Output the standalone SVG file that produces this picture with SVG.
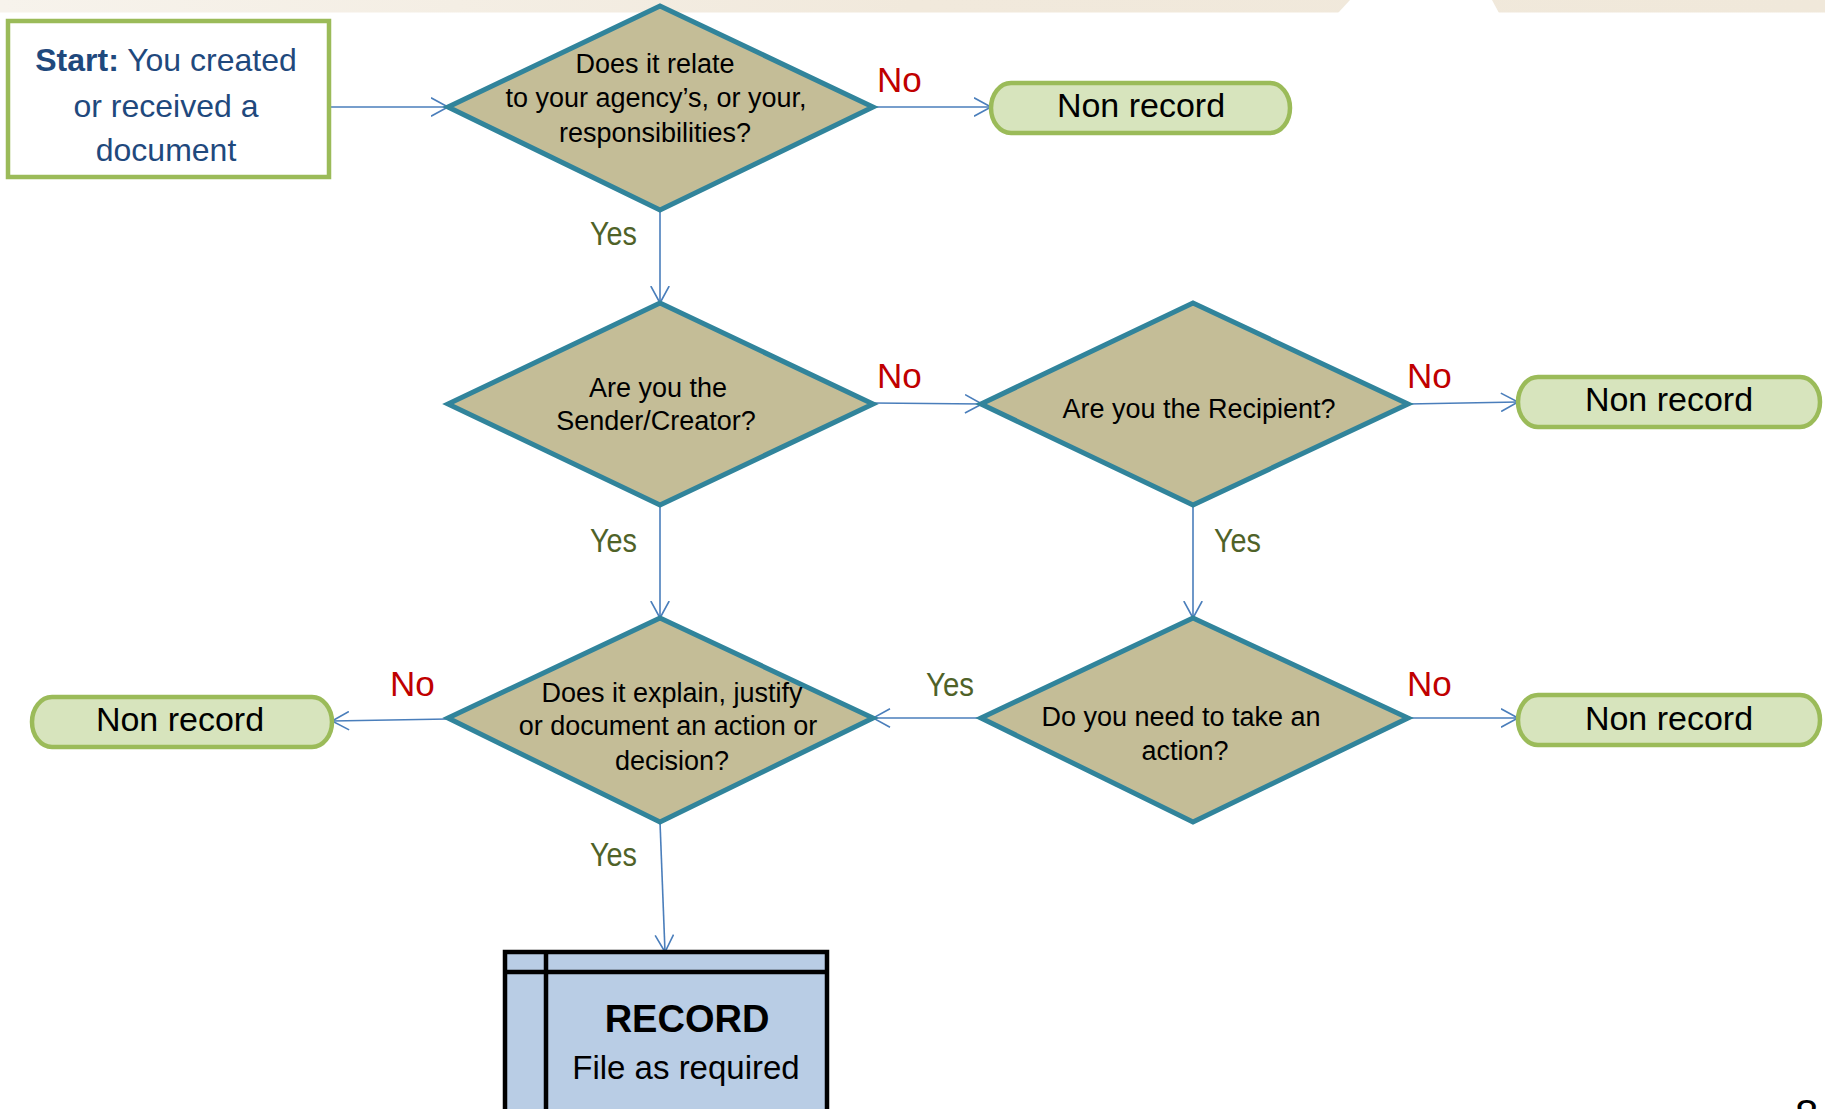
<svg xmlns="http://www.w3.org/2000/svg" width="1825" height="1109" viewBox="0 0 1825 1109">
<defs>
<linearGradient id="band" x1="0" y1="0" x2="1" y2="0">
<stop offset="0" stop-color="#f7f3ec"/>
<stop offset="0.5" stop-color="#f1e9dc"/>
<stop offset="1" stop-color="#f0e8da"/>
</linearGradient>
<marker id="arr" viewBox="0 0 19 20" refX="17.5" refY="10" markerWidth="19" markerHeight="20" markerUnits="userSpaceOnUse" orient="auto">
<path d="M0.5,0.8 L17.5,10 L0.5,19.2" fill="none" stroke="#4a7ebb" stroke-width="1.6"/>
</marker>
<style>
.dia{fill:#c4bd97;stroke:#31849b;stroke-width:5;stroke-linejoin:miter}
.nr{fill:#d7e4bd;stroke:#9bbb59;stroke-width:4.5}
.dt{font-family:"Liberation Sans",Arial,sans-serif;font-size:27px;fill:#000;text-anchor:middle}
.nt{font-family:"Liberation Sans",Arial,sans-serif;font-size:34px;fill:#000;text-anchor:middle}
.no{font-family:"Liberation Sans",Arial,sans-serif;font-size:35px;fill:#c00000}
.yes{font-family:"Liberation Sans",Arial,sans-serif;font-size:34px;fill:#4f6228}
.st{font-family:"Liberation Sans",Arial,sans-serif;font-size:32px;fill:#1f497d;text-anchor:middle}
.cn{fill:none;stroke:#4a7ebb;stroke-width:1.6;marker-end:url(#arr)}
</style>
</defs>
<rect x="0" y="0" width="1825" height="1109" fill="#ffffff"/>
<rect x="0" y="0" width="1825" height="12.5" fill="url(#band)"/>
<polygon points="1350,0 1492,0 1499,13 1338,13" fill="#ffffff"/>

<g id="connectors">
<line class="cn" x1="329" y1="107" x2="448" y2="107"/>
<line class="cn" x1="873" y1="107" x2="991" y2="107"/>
<line class="cn" x1="660" y1="210" x2="660" y2="303"/>
<line class="cn" x1="873" y1="403" x2="982" y2="404"/>
<line class="cn" x1="1408" y1="404" x2="1518" y2="402"/>
<line class="cn" x1="660" y1="505" x2="660" y2="618"/>
<line class="cn" x1="1193" y1="505" x2="1193" y2="618"/>
<line class="cn" x1="981" y1="718" x2="873" y2="718"/>
<line class="cn" x1="1408" y1="718" x2="1518" y2="718"/>
<line class="cn" x1="448" y1="719" x2="332" y2="721"/>
<line class="cn" x1="660" y1="822" x2="665" y2="952"/>
<text class="no" x="877" y="92">No</text>
<text class="no" x="877" y="388">No</text>
<text class="no" x="1407" y="388">No</text>
<text class="no" x="390" y="696">No</text>
<text class="no" x="1407" y="696">No</text>
<text class="yes" x="590" y="245" textLength="47" lengthAdjust="spacingAndGlyphs">Yes</text>
<text class="yes" x="590" y="552" textLength="47" lengthAdjust="spacingAndGlyphs">Yes</text>
<text class="yes" x="1214" y="552" textLength="47" lengthAdjust="spacingAndGlyphs">Yes</text>
<text class="yes" x="926" y="696" textLength="48" lengthAdjust="spacingAndGlyphs">Yes</text>
<text class="yes" x="590" y="866" textLength="47" lengthAdjust="spacingAndGlyphs">Yes</text>
</g>

<g id="start">
<rect x="8" y="21" width="321" height="156" fill="#ffffff" stroke="#9bbb59" stroke-width="4.5"/>
<text class="st" x="166" y="71"><tspan font-weight="bold">Start:</tspan> You created</text>
<text class="st" x="166" y="117">or received a</text>
<text class="st" x="166" y="161">document</text>
</g>

<g id="q1">
<polygon class="dia" points="448,107 660,6 873,107 660,210"/>
<text class="dt" x="655" y="73">Does it relate</text>
<text class="dt" x="656" y="107">to your agency’s, or your,</text>
<text class="dt" x="655" y="142">responsibilities?</text>
</g>

<g id="nr1">
<path class="nr" d="M1011,83 H1270 A20,25 0 0 1 1270,133 H1011 A20,25 0 0 1 1011,83 Z"/>
<text class="nt" x="1141" y="117">Non record</text>
</g>

<g id="q2">
<polygon class="dia" points="448,404 660,303 873,404 660,505"/>
<text class="dt" x="658" y="397">Are you the</text>
<text class="dt" x="656" y="430">Sender/Creator?</text>
</g>

<g id="q3">
<polygon class="dia" points="981,404 1193,303 1408,404 1193,505"/>
<text class="dt" x="1199" y="418">Are you the Recipient?</text>
</g>

<g id="nr2">
<path class="nr" d="M1538,377 H1800 A20,25 0 0 1 1800,427 H1538 A20,25 0 0 1 1538,377 Z"/>
<text class="nt" x="1669" y="411">Non record</text>
</g>

<g id="q4">
<polygon class="dia" points="448,718 660,618 873,718 660,822"/>
<text class="dt" x="672" y="702">Does it explain, justify</text>
<text class="dt" x="668" y="735">or document an action or</text>
<text class="dt" x="672" y="770">decision?</text>
</g>

<g id="q5">
<polygon class="dia" points="981,718 1193,618 1408,718 1193,822"/>
<text class="dt" x="1181" y="726">Do you need to take an</text>
<text class="dt" x="1185" y="760">action?</text>
</g>

<g id="nr3">
<path class="nr" d="M52,697 H312 A20,25 0 0 1 312,747 H52 A20,25 0 0 1 52,697 Z"/>
<text class="nt" x="180" y="731">Non record</text>
</g>

<g id="nr4">
<path class="nr" d="M1538,695 H1800 A20,25 0 0 1 1800,745 H1538 A20,25 0 0 1 1538,695 Z"/>
<text class="nt" x="1669" y="730">Non record</text>
</g>

<g id="record">
<rect x="505" y="952" width="322" height="170" fill="#b9cde5" stroke="#000000" stroke-width="4.5"/>
<line x1="505" y1="972" x2="827" y2="972" stroke="#000000" stroke-width="4.5"/>
<line x1="546" y1="952" x2="546" y2="1122" stroke="#000000" stroke-width="4.5"/>
<text x="687" y="1032" font-family="Liberation Sans, Arial, sans-serif" font-size="38" font-weight="bold" text-anchor="middle" fill="#000">RECORD</text>
<text x="686" y="1079" font-family="Liberation Sans, Arial, sans-serif" font-size="33" text-anchor="middle" fill="#000">File as required</text>
</g>

<text x="1795" y="1129" font-family="Liberation Sans, Arial, sans-serif" font-size="42" fill="#000">8</text>
</svg>
